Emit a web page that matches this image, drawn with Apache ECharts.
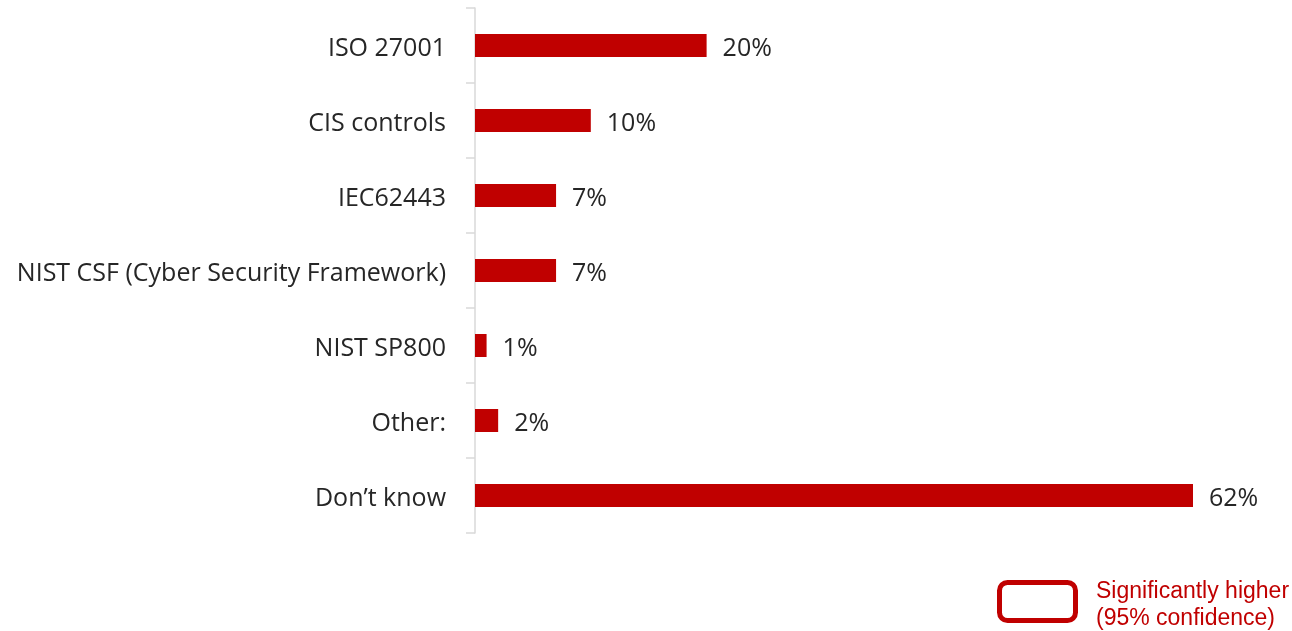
<!DOCTYPE html>
<html>
<head>
<meta charset="utf-8">
<script src="https://cdn.jsdelivr.net/npm/echarts@6/dist/echarts.min.js"></script>
<style>
  html, body { margin: 0; padding: 0; background: #ffffff; }
  #chart { width: 1292px; height: 631px; }
</style>
</head>
<body>
<div id="chart"></div>
<script>
// Frameworks used, share of respondents (%)
const categories = [
  'ISO 27001',
  'CIS controls',
  'IEC62443',
  'NIST CSF (Cyber Security Framework)',
  'NIST SP800',
  'Other:',
  'Don\u2019t know'
];
const shares = [20, 10, 7, 7, 1, 2, 62];
const legendLines = ['Significantly higher', '(95% confidence)'];

const RED = '#C00000';
const chart = echarts.init(document.getElementById('chart'), null, { renderer: 'canvas' });

chart.setOption({
  animation: false,
  grid: { left: 475, top: 8, width: 718, height: 525, containLabel: false },
  xAxis: {
    type: 'value',
    min: 0,
    max: 62,
    show: false
  },
  yAxis: {
    type: 'category',
    data: categories,
    inverse: true,
    axisLine: { show: true, lineStyle: { color: '#d9d9d9', width: 1.5 } },
    axisTick: { show: true, length: 9, alignWithLabel: false, lineStyle: { color: '#d9d9d9', width: 1.5 } },
    axisLabel: {
      margin: 29,
      formatter: '{t|{value}}',
      rich: {
        t: {
          color: '#262626',
          fontFamily: 'Open Sans',
          fontSize: 25,
          padding: [6, 0, 0, 0]
        }
      }
    },
    splitLine: { show: false }
  },
  series: [{
    type: 'bar',
    data: shares,
    barWidth: 23,
    itemStyle: { color: RED },
    label: {
      show: true,
      position: 'right',
      distance: 16,
      offset: [0, 3],
      formatter: '{c}%',
      color: '#262626',
      fontFamily: 'Open Sans',
      fontSize: 25
    }
  }],
  graphic: [
    {
      type: 'rect',
      shape: { x: 999.5, y: 582.5, width: 76, height: 38, r: 8 },
      style: { fill: '#ffffff', stroke: RED, lineWidth: 5 }
    },
    {
      type: 'text',
      style: {
        x: 1096, y: 592,
        text: legendLines[0],
        fill: RED,
        font: '23px "Liberation Sans", Arial, sans-serif',
        textVerticalAlign: 'middle'
      }
    },
    {
      type: 'text',
      style: {
        x: 1096, y: 619,
        text: legendLines[1],
        fill: RED,
        font: '23px "Liberation Sans", Arial, sans-serif',
        textVerticalAlign: 'middle'
      }
    }
  ]
});
</script>
</body>
</html>
